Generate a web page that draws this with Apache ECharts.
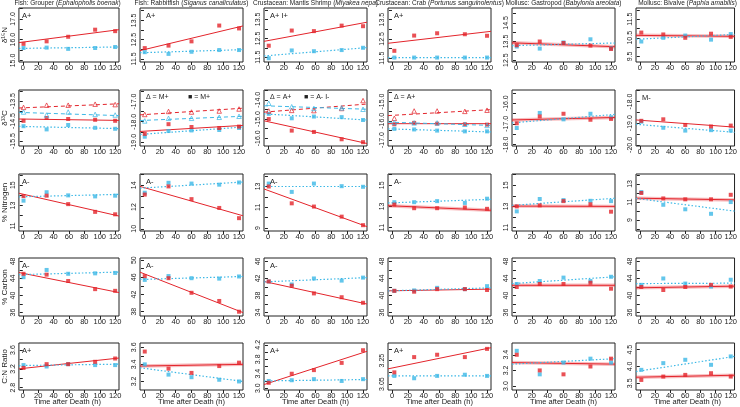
<!DOCTYPE html>
<html><head><meta charset="utf-8">
<script src="https://cdn.jsdelivr.net/npm/echarts@6/dist/echarts.min.js"></script>
<style>html,body{margin:0;padding:0;background:#fff}#c{width:740px;height:407px}</style>
</head><body><div id="c"></div><script>
// ---------- DATA ----------
const colTitles = [
  ['Fish: Grouper (', 'Ephalopholis boenak', ')'],
  ['Fish: Rabbitfish (', 'Siganus canaliculatus', ')'],
  ['Crustacean: Mantis Shrimp (', 'Miyakea nepa', ')'],
  ['Crustacean: Crab (', 'Portunus sanguinolentus', ')'],
  ['Mollusc: Gastropod (', 'Babylonia areolata', ')'],
  ['Mollusc: Bivalve (', 'Paphia amabilis', ')']
];
const rowTitles = ['δ¹⁵N', 'δ¹³C', '% Nitrogen', '% Carbon', 'C:N Ratio'];
const xTitle = 'Time after Death (h)';
const times = [[1,31,59,94,120],[1,31,60,95,120],[1,30,58,93,120],[3,28,57,92,120],[1,30,60,94,120],[2,31,60,94,120]];
const xTicks = [0,20,40,60,80,100,120];

// Row 1: d15N
const n15Red  = [[15.8,15.92,16.14,16.48,16.41],[12.06,12.19,12.41,13.23,13.08],[12.11,12.91,12.88,13.17,13.14],[11.88,12.67,12.79,12.74,12.66],[13.3,13.5,13.42,13.28,13.1],[10.78,10.68,10.5,10.72,10.55]];
const n15Blue = [[15.6,15.62,15.56,15.6,15.65],[11.85,11.76,11.87,11.96,11.96],[11.45,11.86,11.82,11.88,12.0],[11.53,11.53,11.53,11.53,11.53],[13.23,13.12,13.45,13.62,13.13],[10.3,10.5,10.62,10.4,10.7]];
const n15RedFit  = [[15.86,16.48],[11.93,13.21],[12.34,13.35],[12.27,12.89],[13.43,13.22],[10.63,10.58]];
const n15BlueFit = [[15.58,15.65],[11.82,11.98],[11.57,12.01],[11.53,11.53],[13.28,13.42],[10.42,10.68]];

// Row 2: d13C (squares = untreated, triangles = treated)
const c13Red  = [[-14.49,-14.35,-14.4,-14.44,-14.49],[-18.6,-18.12,-18.26,-18.31,-18.24],[-15.0,-15.6,-15.67,-16.05,-16.2],[-16.18,-16.11,-16.15,-16.18,-16.2],[-16.97,-16.64,-16.51,-16.8,-16.76],[-18.89,-18.82,-19.08,-19.15,-19.11]];
const c13Blue = [[-14.76,-14.92,-14.7,-14.84,-14.89],[-18.74,-18.46,-18.43,-18.41,-18.31],[-14.73,-14.96,-14.87,-14.9,-15.05],[-16.42,-16.45,-16.51,-16.55,-16.55],[-17.2,-16.47,-16.78,-16.51,-16.68],[-18.93,-19.21,-19.34,-19.32,-19.34]];
const c13RedFit  = [[-14.4,-14.47],[-18.48,-18.18],[-15.09,-16.27],[-16.15,-16.15],[-16.81,-16.69],[-18.85,-19.18]];
const c13BlueFit = [[-14.77,-14.88],[-18.63,-18.26],[-14.73,-15.05],[-16.42,-16.58],[-16.95,-16.54],[-19.05,-19.42]];
const c13RedTri  = [[-13.82,-13.71,-13.71,-13.66,-13.68],[-17.64,-17.49,-17.52,-17.47,-17.37],[-14.58,-14.55,-14.56,-14.45,-14.04],[-15.87,-15.49,-15.49,-15.51,-15.45],null,null];
const c13BlueTri = [[-14.05,-14.2,-14.05,-14.17,-14.2],[-17.96,-17.83,-17.83,-17.78,-17.73],[-14.18,-14.36,-14.45,-14.42,-14.49],[-16.09,-16.11,-16.11,-16.18,-16.24],null,null];
const c13RedTriFit  = [[-13.85,-13.64],[-17.66,-17.33],[-14.64,-14.22],[-15.73,-15.42],null,null];
const c13BlueTriFit = [[-14.07,-14.23],[-17.94,-17.73],[-14.31,-14.49],[-16.07,-16.24],null,null];

// Row 3: %N
const pnRed  = [[13.93,13.97,13.14,12.38,12.14],[13.15,13.9,12.73,11.92,10.98],[13.0,11.38,11.07,10.1,9.28],[13.17,12.83,12.83,12.9,12.77],[13.0,13.1,13.5,13.2,12.5],[12.0,11.4,11.3,11.3,11.8]];
const pnBlue = [[13.48,14.31,14.0,13.9,13.97],[13.32,14.23,14.16,14.06,14.26],[13.28,12.48,13.28,13.03,12.97],[13.4,13.4,13.5,13.33,13.73],[12.53,13.7,13.6,13.53,13.5],[12.1,10.7,10.2,9.7,11.0]];
const pnRedFit  = [[14.21,11.97],[13.9,11.2],[12.76,9.14],[13.07,12.63],[13.03,13.0],[11.43,11.24]];
const pnBlueFit = [[13.86,14.1],[13.74,14.3],[13.0,13.0],[13.33,13.67],[13.1,13.77],[11.4,10.0]];

// Row 4: %C
const pcRed  = [[45.1,44.9,43.4,41.5,41.1],[46.27,45.8,42.4,40.5,38.0],[41.3,40.3,38.5,37.6,36.3],[41.1,40.9,41.5,41.5,41.3],[42.0,42.7,42.7,43.0,41.6],[42.0,41.3,42.0,42.5,42.1]];
const pcBlue = [[44.3,46.0,45.1,45.2,45.3],[45.4,46.3,45.8,45.7,46.2],[41.3,40.6,42.0,41.5,42.2],[41.1,41.2,41.8,41.5,42.2],[42.7,43.4,44.2,43.4,44.4],[42.5,44.0,42.8,42.1,43.7]];
const pcRedFit  = [[45.4,40.7],[47.2,37.8],[41.3,36.0],[41.1,41.5],[42.4,42.4],[41.8,42.2]];
const pcBlueFit = [[44.9,45.5],[45.5,46.2],[41.2,42.2],[41.1,41.8],[42.8,44.4],[42.8,42.9]];

// Row 5: C:N
const cnRed  = [[3.22,3.3,3.3,3.35,3.42],[3.55,3.35,3.3,3.38,3.42],[3.15,3.4,3.5,3.7,4.05],[3.15,3.28,3.3,3.28,3.35],[3.4,3.2,3.15,3.25,3.35],[3.6,3.7,3.75,3.8,3.7]];
const cnBlue = [[3.28,3.25,3.3,3.28,3.28],[3.4,3.28,3.25,3.22,3.2],[3.2,3.22,3.25,3.2,3.25],[3.12,3.1,3.12,3.13,3.12],[3.45,3.15,3.3,3.35,3.3],[3.9,4.1,4.2,4.05,4.3]];
const cnRedFit  = [[3.2,3.43],[3.38,3.4],[3.1,4.02],[3.18,3.36],[3.3,3.28],[3.68,3.74]];
const cnBlueFit = [[3.27,3.3],[3.36,3.2],[3.2,3.24],[3.12,3.12],[3.28,3.35],[3.85,4.3]];

// Axis ranges / ticks / labels per panel [row][col]
const yRange = [
  [[14.93,17.52],[11.34,14.14],[11.25,14.1],[11.3,14.1],[12.4,15.3],[9.2,12.1]],
  [[-15.75,-12.95],[-19.2,-16.43],[-16.4,-13.49],[-17.31,-14.4],[-18.07,-15.36],[-20.05,-17.47]],
  [[10.5,16.1],[9.8,15.04],[8.72,14.2],[10.67,16.07],[10.67,16.07],[7.8,14.1]],
  [[35.2,48.8],[37.0,50.5],[33.2,46.8],[35.2,48.8],[35.2,48.8],[35.2,48.8]],
  [[2.75,3.75],[3.1,3.65],[2.95,4.25],[3.0,3.4],[2.95,3.55],[3.3,4.7]]
];
const yTicks = [
  [[15,15.5,16,16.5,17,17.5],[11.5,12,12.5,13,13.5,14],[11.5,12,12.5,13,13.5,14],[11.5,12,12.5,13,13.5,14],[12.5,13,13.5,14,14.5,15],[9.5,10,10.5,11,11.5,12]],
  [[-15.5,-15,-14.5,-14,-13.5,-13],[-19,-18.5,-18,-17.5,-17,-16.5],[-16,-15.5,-15,-14.5,-14,-13.5],[-17,-16.5,-16,-15.5,-15,-14.5],[-18,-17.5,-17,-16.5,-16,-15.5],[-20,-19.5,-19,-18.5,-18,-17.5]],
  [[11,12,13,14,15,16],[10,11,12,13,14,15],[9,10,11,12,13,14],[11,12,13,14,15,16],[11,12,13,14,15,16],[8,9,10,11,12,13,14]],
  [[36,38,40,42,44,46,48],[38,40,42,44,46,48,50],[34,36,38,40,42,44,46],[36,38,40,42,44,46,48],[36,38,40,42,44,46,48],[36,38,40,42,44,46,48]],
  [[2.8,3.0,3.2,3.4,3.6],[3.2,3.3,3.4,3.5,3.6],[3.0,3.2,3.4,3.6,3.8,4.0,4.2],[3.05,3.15,3.25,3.35],[3.0,3.2,3.4],[3.5,4.0,4.5]]
];
const yLabels = [
  [['15.0','16.0','17.0'],['11.5','12.5','13.5'],['11.5','12.5','13.5'],['11.5','12.5','13.5'],['12.5','13.5','14.5'],['9.5','10.5','11.5']],
  [['-15.5','-14.5','-13.5'],['-19.0','-18.0','-17.0'],['-16.0','-15.0','-14.0'],['-17.0','-16.0','-15.0'],['-18.0','-17.0','-16.0'],['-20.0','-19.0','-18.0']],
  [['11','13','15'],['10','12','14'],['9','11','13'],['11','13','15'],['11','13','15'],['9','11','13']],
  [['36','40','44','48'],['38','42','46','50'],['34','38','42','46'],['36','40','44','48'],['36','40','44','48'],['36','40','44','48']],
  [['2.8','3.2','3.6'],['3.2','3.4','3.6'],['3.0','3.4','3.8','4.2'],['3.05','3.25'],['3.0','3.2','3.4'],['3.5','4.0','4.5']]
];
const panelTags = [
  ['A+','A+','A+ I+','A+','',''],
  ['','','','','','M-'],
  ['A-','A-','A-','A-','',''],
  ['A-','A-','A-','','',''],
  ['A+','','A+','A+','','']
];
const legendTags = [['',''],['Δ = M+','■ = M+'],['Δ = A+','■ = A- I-'],['Δ = A+','']];
// panels whose red fit is drawn with a pale band
const paleBand = [
  [0,0,0,0,1,1],[0,0,0,0,1,0],[0,0,0,1,1,1],[0,0,0,0,1,1],[0,1,0,0,1,1]
];

// ---------- LAYOUT ----------
const RED = '#E3242B', BLUE = '#3CB8E6', AX = '#222';
const colLeft = [16,140,264,388,512,636], colW = 103;
const rowTop = [8,90,174,258,343], rowBot = [62,146,231,316,390];
const legendOff = [0, 48, 40, 0, 0, 0];
const X0 = -5, X1 = 125;
const rowRed = [n15Red,c13Red,pnRed,pcRed,cnRed], rowBlue = [n15Blue,c13Blue,pnBlue,pcBlue,cnBlue];
const rowRedFit = [n15RedFit,c13RedFit,pnRedFit,pcRedFit,cnRedFit], rowBlueFit = [n15BlueFit,c13BlueFit,pnBlueFit,pcBlueFit,cnBlueFit];

const grid = [], xAxis = [], yAxis = [], series = [], graphic = [];
const FONT = 'Liberation Sans, Arial, sans-serif';
let k = 0;
for (let r = 0; r < 5; r++) {
  for (let c = 0; c < 6; c++) {
    grid.push({left: colLeft[c], top: rowTop[r], width: colW, height: rowBot[r]-rowTop[r], show: true, borderColor: AX, borderWidth: 1, backgroundColor: 'transparent'});
    xAxis.push({type: 'value', gridIndex: k, min: X0, max: X1,
      axisLine: {show: false}, splitLine: {show: false},
      axisTick: {show: true, length: 3, lineStyle: {color: AX}, customValues: xTicks},
      axisLabel: {show: true, fontSize: 7.5, color: AX, margin: 2, fontFamily: FONT, customValues: xTicks}});
    yAxis.push({type: 'value', gridIndex: k, min: yRange[r][c][0], max: yRange[r][c][1],
      axisLine: {show: false}, splitLine: {show: false},
      name: c === 0 ? rowTitles[r] : '', nameLocation: 'middle', nameRotate: 90, nameGap: 9,
      nameTextStyle: {fontSize: 8, color: AX, fontFamily: FONT},
      axisTick: {show: true, length: 3, lineStyle: {color: AX}, customValues: yTicks[r][c]},
      axisLabel: {show: true, fontSize: 7, color: AX, margin: 2, rotate: 90, fontFamily: FONT,
        customValues: yLabels[r][c].map(Number), formatter: v => {
          const s = yLabels[r][c].find(t => Math.abs(Number(t) - v) < 1e-9); return s || ''; }}});
    const t = times[c];
    const pts = arr => arr.map((v, i) => [t[i], v]);
    const fitLine = f => [[X0, f[0]], [X1, f[1]]];
    if (paleBand[r][c]) {
      series.push({type: 'line', xAxisIndex: k, yAxisIndex: k, data: fitLine(rowRedFit[r][c]), symbol: 'none', silent: true,
        lineStyle: {color: 'rgba(227,36,43,0.3)', width: 3.5}, clip: true, z: 1});
    }
    series.push({type: 'line', xAxisIndex: k, yAxisIndex: k, data: fitLine(rowRedFit[r][c]), symbol: 'none', silent: true,
      lineStyle: {color: RED, width: 1}, clip: true, z: 2});
    series.push({type: 'line', xAxisIndex: k, yAxisIndex: k, data: fitLine(rowBlueFit[r][c]), symbol: 'none', silent: true,
      lineStyle: {color: BLUE, width: 1.2, type: [1.5, 2]}, clip: true, z: 2});
    series.push({type: 'scatter', xAxisIndex: k, yAxisIndex: k, data: pts(rowBlue[r][c]), symbol: 'rect', symbolSize: 4,
      itemStyle: {color: BLUE}, silent: true, z: 3});
    series.push({type: 'scatter', xAxisIndex: k, yAxisIndex: k, data: pts(rowRed[r][c]), symbol: 'rect', symbolSize: 4,
      itemStyle: {color: RED}, silent: true, z: 3});
    if (r === 1 && c13RedTri[c]) {
      series.push({type: 'line', xAxisIndex: k, yAxisIndex: k, data: fitLine(c13RedTriFit[c]), symbol: 'none', silent: true,
        lineStyle: {color: RED, width: 1, type: [4, 3]}, clip: true, z: 2});
      series.push({type: 'line', xAxisIndex: k, yAxisIndex: k, data: fitLine(c13BlueTriFit[c]), symbol: 'none', silent: true,
        lineStyle: {color: BLUE, width: 1, type: [4, 3]}, clip: true, z: 2});
      series.push({type: 'scatter', xAxisIndex: k, yAxisIndex: k, data: pts(c13RedTri[c]), symbol: 'triangle', symbolSize: 4.5,
        itemStyle: {color: 'rgba(255,255,255,0)', borderColor: RED, borderWidth: 0.9}, silent: true, z: 3});
      series.push({type: 'scatter', xAxisIndex: k, yAxisIndex: k, data: pts(c13BlueTri[c]), symbol: 'triangle', symbolSize: 4.5,
        itemStyle: {color: 'rgba(255,255,255,0)', borderColor: BLUE, borderWidth: 0.9}, silent: true, z: 3});
    }
    if (panelTags[r][c]) {
      graphic.push({type: 'text', left: colLeft[c] + 6, top: rowTop[r] + 4, z: 10,
        style: {text: panelTags[r][c], fontSize: 7.5, fill: AX, fontFamily: FONT}});
    }
    if (r === 1 && legendTags[c] && legendTags[c][0]) {
      graphic.push({type: 'text', left: colLeft[c] + 6, top: rowTop[r] + 4, z: 10,
        style: {text: legendTags[c][0], fontSize: 7, fill: AX, fontFamily: FONT}});
      if (legendTags[c][1]) graphic.push({type: 'text', left: colLeft[c] + legendOff[c], top: rowTop[r] + 4, z: 10,
        style: {text: legendTags[c][1], fontSize: 7, fill: AX, fontFamily: FONT}});
    }
    k++;
  }
}
for (let c = 0; c < 6; c++) {
  graphic.push({type: 'text', x: colLeft[c] + colW / 2, y: 0, z: 10,
    style: {text: '{n|' + colTitles[c][0] + '}{i|' + colTitles[c][1] + '}{n|' + colTitles[c][2] + '}', align: 'center',
      rich: {n: {fontSize: 6.5, fill: AX, fontFamily: FONT}, i: {fontSize: 6.5, fill: AX, fontStyle: 'italic', fontFamily: FONT}}}});
  graphic.push({type: 'text', x: colLeft[c] + colW / 2, y: 398, z: 10,
    style: {text: xTitle, align: 'center', fontSize: 7.5, fill: AX, fontFamily: FONT}});
}
const chart = echarts.init(document.getElementById('c'), null, {renderer: 'canvas'});
chart.setOption({animation: false, grid, xAxis, yAxis, series, graphic});
</script></body></html>
